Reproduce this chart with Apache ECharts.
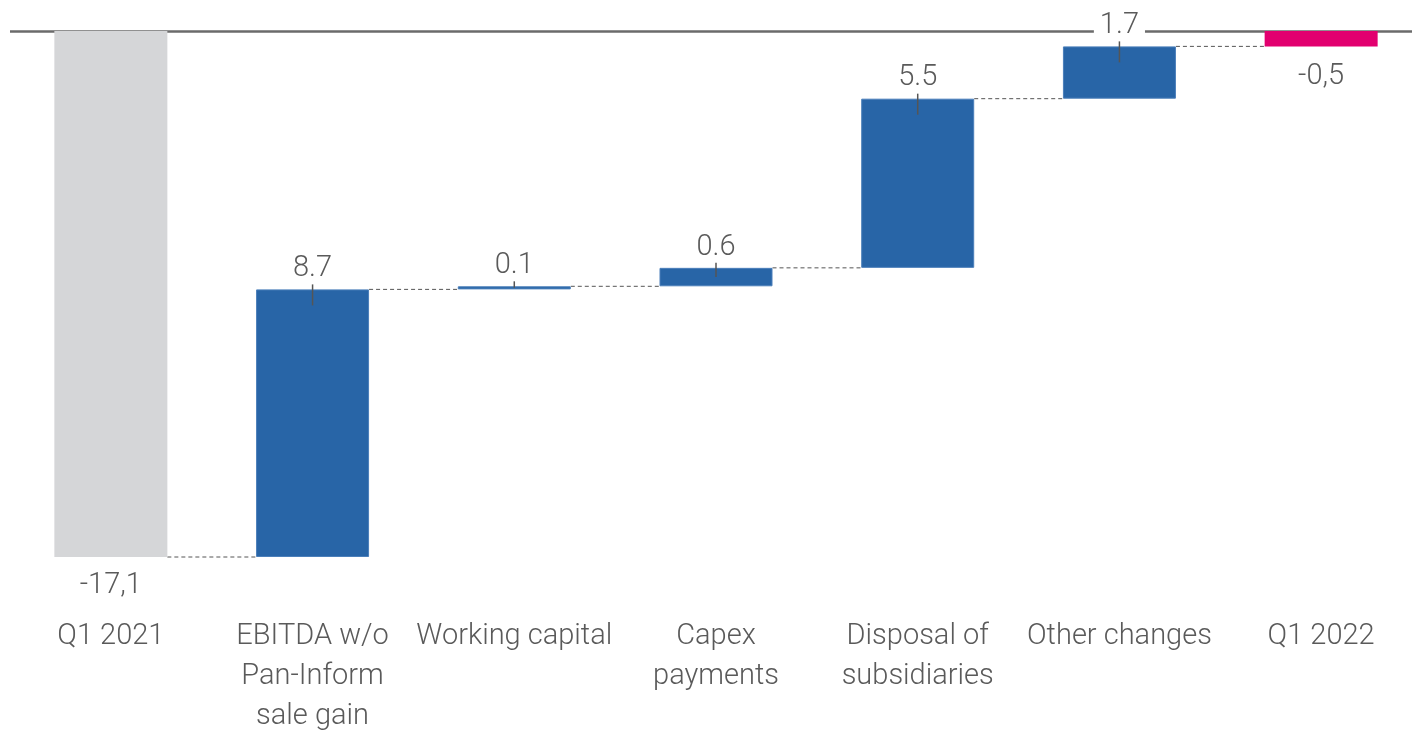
<!DOCTYPE html>
<html>
<head>
<meta charset="utf-8">
<script src="https://cdn.jsdelivr.net/npm/echarts@6/dist/echarts.min.js"></script>
<style>
html,body{margin:0;padding:0;background:#fff;overflow:hidden;}
#c{width:1412px;height:730px;}
</style>
</head>
<body>
<div id="c"></div>
<script>
// ---- data ----
const categories = ['Q1 2021', 'EBITDA w/o\nPan-Inform\nsale gain', 'Working capital', 'Capex\npayments', 'Disposal of\nsubsidiaries', 'Other changes', 'Q1 2022'];
const startValue = -17.1;
const changes = [8.7, 0.1, 0.6, 5.5, 1.7];
const endValue = -0.5;
const valueLabels = ['-17,1', '8.7', '0.1', '0.6', '5.5', '1.7', '-0,5'];

// ---- build waterfall ----
const TEXT = '#5a5a5a';
const FONT = 'Roboto';
const BAR_W = 113;
const placeholder = [];
const visible = [];
const levels = []; // cumulative level after each bar
let cum = startValue;
placeholder.push(0);
visible.push({value: startValue, itemStyle: {color: '#d5d6d8'}, label: {position: 'bottom', distance: 14}});
levels.push(cum);
changes.forEach(function (d) {
  const next = +(cum + d).toFixed(4);
  placeholder.push(next);
  visible.push({value: -d, itemStyle: {color: '#2865a7', borderColor: '#4b7fba', borderWidth: 1}, label: {position: 'top', distance: 6}});
  levels.push(next);
  cum = next;
});
placeholder.push(0);
visible.push({value: endValue, itemStyle: {color: '#e2006f'}, label: {position: 'bottom', distance: 16}});
levels.push(endValue);

// connectors: from bar i to bar i+1 at level[i]
const connectorData = [];
for (let i = 0; i < categories.length - 1; i++) connectorData.push([i, levels[i]]);
// tick pointers on change bars: [index, topValue, magnitude]
const tickData = [];
for (let i = 0; i < changes.length; i++) tickData.push([i + 1, placeholder[i + 1], changes[i]]);

const chart = echarts.init(document.getElementById('c'));
chart.setOption({
  animation: false,
  grid: {left: 10, width: 1412, top: 31, height: 526, containLabel: false, outerBoundsMode: 'none'},
  xAxis: {
    type: 'category',
    data: categories,
    axisLine: {show: false, onZero: false},
    axisTick: {show: false},
    axisLabel: {interval: 0, margin: 60, color: TEXT, fontFamily: FONT, fontWeight: 300, fontSize: 29, lineHeight: 40}
  },
  yAxis: {
    type: 'value', min: startValue, max: 0,
    show: false
  },
  series: [
    {
      type: 'bar', stack: 'w', barWidth: BAR_W, z: 1,
      itemStyle: {color: 'transparent'},
      data: placeholder, silent: true,
      markLine: {
        silent: true, symbol: 'none', label: {show: false}, z: 1,
        lineStyle: {color: '#6b6b6b', width: 2.5, type: 'solid'},
        data: [{yAxis: 0}]
      }
    },
    {
      type: 'custom', z: 1,
      renderItem: function (params, api) {
        const p = api.coord([api.value(0), api.value(1)]);
        const band = api.size([1, 0])[0];
        return {
          type: 'line',
          shape: {x1: p[0] + BAR_W / 2, y1: p[1], x2: p[0] + band - BAR_W / 2, y2: p[1]},
          style: {stroke: '#555', lineWidth: 1, lineDash: [4, 3]}
        };
      },
      data: connectorData
    },
    {
      type: 'bar', stack: 'w', barWidth: BAR_W, z: 3,
      data: visible,
      label: {
        show: true, color: TEXT, fontFamily: FONT, fontWeight: 300, fontSize: 29,
        backgroundColor: '#fff', padding: [0, 6],
        formatter: function (p) { return valueLabels[p.dataIndex]; }
      }
    },
    {
      type: 'custom', z: 5,
      renderItem: function (params, api) {
        const p = api.coord([api.value(0), api.value(1)]);
        const h = api.size([0, api.value(2)])[1];
        return {
          type: 'line',
          shape: {x1: p[0], y1: p[1] - 5, x2: p[0], y2: p[1] + Math.min(16, h / 2)},
          style: {stroke: '#555', lineWidth: 1.5}
        };
      },
      data: tickData
    }
  ]
});
</script>
</body>
</html>
